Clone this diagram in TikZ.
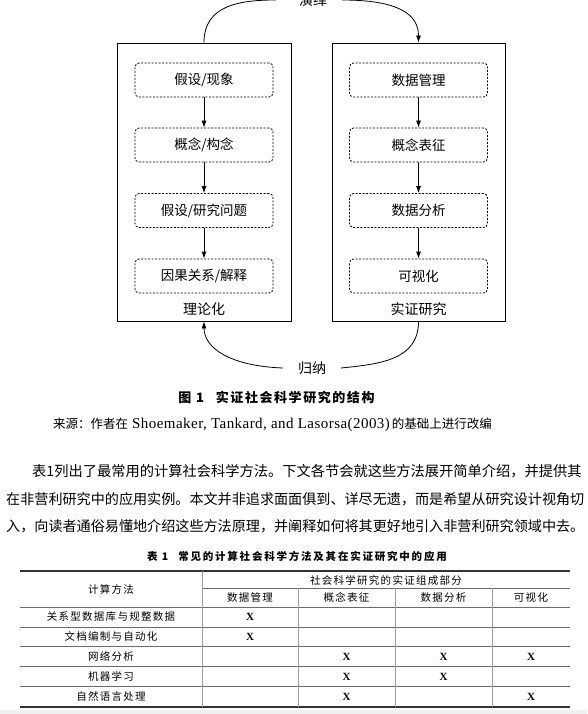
\documentclass[tikz,border=0pt]{standalone}
\usepackage{fontspec}
\setmainfont{Liberation Serif}
\newfontfamily\cjk{Noto Sans CJK SC}
\newfontfamily\cjktab[LetterSpace=12]{Noto Sans CJK SC}
\newfontfamily\cjkcap[LetterSpace=12]{Noto Sans CJK SC}
\newfontfamily\cjktabcap[LetterSpace=17]{Noto Sans CJK SC}
\newfontfamily\latsrc[LetterSpace=3]{Liberation Serif}
\usetikzlibrary{arrows.meta}
\tikzstyle{outerbox}=[draw, line width=0.9pt, minimum width=174pt, minimum height=278pt]
\tikzstyle{stagebox}=[draw, line width=0.8pt, dash pattern=on 2pt off 1.5pt, rounded corners=4pt, minimum width=138pt, minimum height=34pt, font=\cjk\fontsize{13.5}{16}\selectfont]
\tikzstyle{flow}=[line width=0.8pt, -{Latex[length=7pt,width=5pt]}]
\tikzstyle{boxlabel}=[font=\cjk\fontsize{14}{16}\selectfont]
\tikzstyle{bodyline}=[anchor=base west, inner sep=0pt]
\tikzstyle{tabcell}=[anchor=base, inner sep=0pt, font=\cjktab\fontsize{10.5}{12}\selectfont]
\tikzstyle{tabmark}=[anchor=base, inner sep=0pt, font=\bfseries\fontsize{11}{12}\selectfont]
\tikzstyle{hrule}=[gray!85!black, line width=1pt]
\tikzstyle{vrule}=[gray!75, line width=0.9pt]
\tikzstyle{thickrule}=[black!80, line width=1.4pt]

\begin{document}
\begin{tikzpicture}[x=1pt, y=-1pt]
\useasboundingbox (0,0) rectangle (587,714);
% Outer boxes
    \node[outerbox] (theory) at (204,182) {};
    \node[outerbox, minimum width=173pt] (empirical) at (418.5,182) {};
    \node[boxlabel] (theorylabel) at (204,309) {理论化};
    \node[boxlabel] (emplabel) at (418.5,309) {实证研究};
% Stages of theory
    \node[stagebox] (phenom) at (204,80) {假设/现象};
    \node[stagebox] (construct) at (204,145) {概念/构念};
    \node[stagebox] (question) at (204,210.5) {假设/研究问题};
    \node[stagebox] (cause) at (204,276) {因果关系/解释};
    \draw[flow] (phenom) -- (construct);
    \draw[flow] (construct) -- (question);
    \draw[flow] (question) -- (cause);
% Stages of empirical research
    \node[stagebox] (datamgmt) at (418.5,80) {数据管理};
    \node[stagebox] (represent) at (418.5,145) {概念表征};
    \node[stagebox] (analysis) at (418.5,210.5) {数据分析};
    \node[stagebox] (visual) at (418.5,276) {可视化};
    \draw[flow] (datamgmt) -- (represent);
    \draw[flow] (represent) -- (analysis);
    \draw[flow] (analysis) -- (visual);
% Deduction and induction
    \node[boxlabel, inner xsep=15pt] (deduce) at (313,0) {演绎};
    \node[boxlabel, inner xsep=15pt] (induce) at (312,368) {归纳};
    \draw[line width=0.8pt] (theory.north) .. controls (204,5) and (240,0) .. ([xshift=-8pt]deduce.west);
    \draw[flow] (deduce.east) .. controls (400,0) and (418.5,15) .. (empirical.north);
    \draw[line width=0.8pt] (empirical.south) .. controls (418.5,360) and (380,364) .. (induce.east);
    \draw[flow] (induce.west) .. controls (230,366) and (204,348) .. (theory.south);
% Caption and source
    \node[anchor=base, inner sep=0pt, font=\cjkcap\bfseries\fontsize{13}{15}\selectfont] (figcap) at (276.5,402) {图 1\hspace{12pt}实证社会科学研究的结构};
    \node[bodyline, font=\fontsize{12.5}{16}\selectfont] (source) at (53,428) {{\cjk 来源：作者在}\hspace{4pt}{\latsrc\fontsize{15}{16}\selectfont Shoemaker, Tankard, and Lasorsa(2003)}\hspace{2pt}{\cjk 的基础上进行改编}};
% Body text
    \node[bodyline, font=\cjk\fontsize{14.25}{16}\selectfont] (line1) at (32,476) {表1列出了最常用的计算社会科学方法。下文各节会就这些方法展开简单介绍，并提供其};
    \node[bodyline, font=\cjk\fontsize{14.1}{16}\selectfont] (line2) at (6,504) {在非营利研究中的应用实例。本文并非追求面面俱到、详尽无遗，而是希望从研究设计视角切};
    \node[bodyline, font=\cjk\fontsize{14.1}{16}\selectfont] (line3) at (6,531) {入，向读者通俗易懂地介绍这些方法原理，并阐释如何将其更好地引入非营利研究领域中去。};
% Table caption
    \node[anchor=base, inner sep=0pt, font=\cjktabcap\bfseries\fontsize{10.5}{12}\selectfont] (tabcap) at (297,560) {表 1\hspace{10pt}常见的计算社会科学方法及其在实证研究中的应用};
% Table rules
    \draw[thickrule] (20,571) -- (570,571);
    \draw[hrule] (202,588) -- (570,588);
    \draw[hrule] (20,607) -- (570,607);
    \draw[hrule] (20,627) -- (570,627);
    \draw[hrule] (20,646) -- (570,646);
    \draw[hrule] (20,666) -- (570,666);
    \draw[hrule] (20,686) -- (570,686);
    \draw[thickrule] (20,707) -- (570,707);
    \draw[vrule] (202,571) -- (202,707);
    \draw[vrule] (298,588) -- (298,707);
    \draw[vrule] (395,588) -- (395,707);
    \draw[vrule] (492,588) -- (492,707);
% Table head
    \node[tabcell] (method) at (111,593.3) {计算方法};
    \node[tabcell] (parts) at (386,584.8) {社会科学研究的实证组成部分};
    \node[tabcell] (hmgmt) at (250,601.8) {数据管理};
    \node[tabcell] (hrep) at (346.5,601.8) {概念表征};
    \node[tabcell] (hana) at (443.5,601.8) {数据分析};
    \node[tabcell] (hvis) at (531,601.8) {可视化};
% Table body
    \node[tabcell] (reldb) at (111,620.8) {关系型数据库与规整数据};
    \node[tabcell] (docauto) at (111,640.8) {文档编制与自动化};
    \node[tabcell] (network) at (111,660.3) {网络分析};
    \node[tabcell] (mlearn) at (111,680.3) {机器学习};
    \node[tabcell] (nlp) at (111,700.3) {自然语言处理};
    \node[tabmark] (x1) at (250,620.5) {X};
    \node[tabmark] (x2) at (250,640.5) {X};
    \node[tabmark] (x3) at (346.5,660) {X};
    \node[tabmark] (x4) at (443.5,660) {X};
    \node[tabmark] (x5) at (531,660) {X};
    \node[tabmark] (x6) at (346.5,680) {X};
    \node[tabmark] (x7) at (443.5,680) {X};
    \node[tabmark] (x8) at (346.5,700) {X};
    \node[tabmark] (x9) at (531,700) {X};
% Page edge
    \fill[gray!12] (0,710) rectangle (587,714);
\end{tikzpicture}
\end{document}
